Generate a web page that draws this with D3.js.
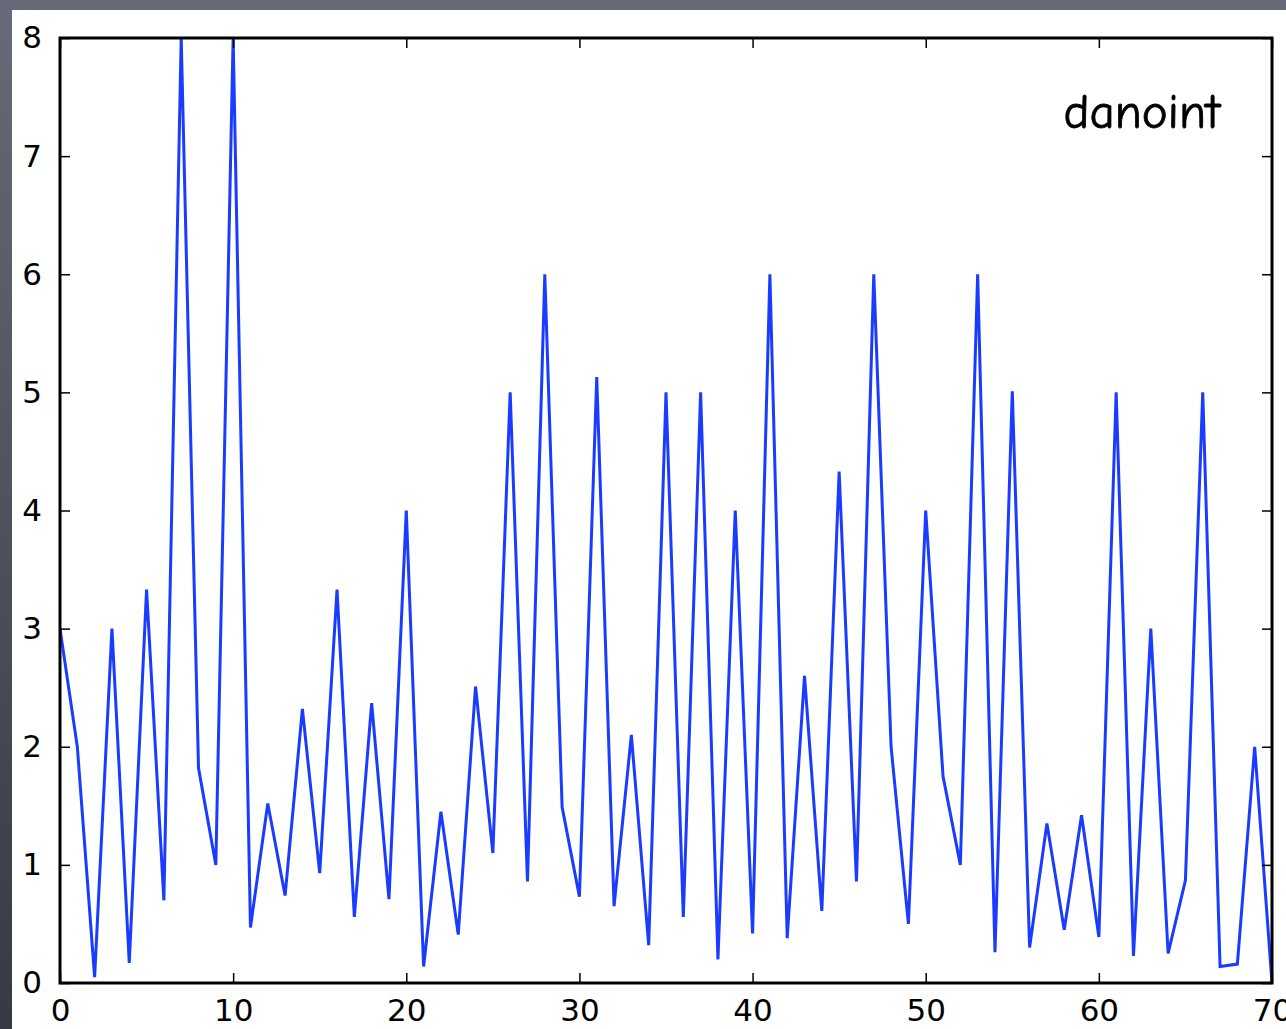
<!DOCTYPE html>
<html>
<head>
<meta charset="utf-8">
<script src="https://cdn.jsdelivr.net/npm/d3@7"></script>
<style>
  html, body { margin: 0; padding: 0; background: #4d4f5b; }
  svg { display: block; }
  .tick text { font-family: "DejaVu Sans", sans-serif; font-size: 31px; fill: #000; }
</style>
</head>
<body>
<svg id="chart" width="1286" height="1029"></svg>
<script>
// danoint series, one value per integer x (0..70)
const xValues = d3.range(0, 71);
const yValues = [
  3.0, 2.0, 0.05, 3.0, 0.17, 3.33, 0.7, 8.0, 1.82, 1.0,
  8.0, 0.47, 1.52, 0.74, 2.32, 0.93, 3.33, 0.56, 2.37, 0.71,
  4.0, 0.14, 1.45, 0.41, 2.51, 1.1, 5.0, 0.86, 6.0, 1.49,
  0.73, 5.13, 0.65, 2.1, 0.32, 5.0, 0.56, 5.0, 0.2, 4.0,
  0.42, 6.0, 0.38, 2.6, 0.61, 4.33, 0.86, 6.0, 2.0, 0.5,
  4.0, 1.75, 1.0, 6.0, 0.26, 5.01, 0.3, 1.35, 0.45, 1.42,
  0.39, 5.0, 0.23, 3.0, 0.25, 0.87, 5.0, 0.14, 0.16, 2.0,
  0.0
];
const xTicks = [0, 10, 20, 30, 40, 50, 60, 70];
const yTicks = [0, 1, 2, 3, 4, 5, 6, 7, 8];
const label = "danoint";

const svg = d3.select("#chart");
const W = 1286, H = 1029;
const plot = {left: 60, right: 1272, top: 38, bottom: 983};

// dark backdrop + white panel
let defs = svg.append("defs");
let grad = defs.append("linearGradient").attr("id", "bg")
    .attr("x1", 0).attr("y1", 0).attr("x2", 0).attr("y2", 1);
grad.append("stop").attr("offset", "0%").attr("stop-color", "#686a79");
grad.append("stop").attr("offset", "100%").attr("stop-color", "#373943");
svg.append("rect").attr("width", W).attr("height", H).attr("fill", "url(#bg)");
svg.append("rect").attr("x", 12).attr("y", 10)
    .attr("width", W - 12).attr("height", H - 10).attr("fill", "#fff");

defs.append("clipPath").attr("id", "clip")
  .append("rect")
    .attr("x", plot.left).attr("y", plot.top)
    .attr("width", plot.right - plot.left).attr("height", plot.bottom - plot.top);

let x = d3.scaleLinear().domain([0, 70]).range([plot.left, plot.right]);
let y = d3.scaleLinear().domain([0, 8]).range([plot.bottom, plot.top]);

// the series
let line = d3.line()
    .x((d, i) => x(xValues[i]))
    .y(d => y(d));

svg.append("path")
    .datum(yValues)
    .attr("clip-path", "url(#clip)")
    .attr("fill", "none")
    .attr("stroke", "#1a3cff")
    .attr("stroke-width", 3)
    .attr("stroke-linejoin", "miter")
    .attr("d", line);

// axes, matplotlib style: ticks pointing inward on all four sides
function styleAxis(g) {
    g.select(".domain").remove();
    g.selectAll(".tick line").attr("stroke", "#000").attr("stroke-width", 1.5);
}

svg.append("g")
    .attr("transform", "translate(0," + plot.bottom + ")")
    .call(d3.axisBottom(x).tickValues(xTicks).tickSize(-10).tickPadding(14).tickFormat(d3.format("d")))
    .call(styleAxis)
    .call(g => g.selectAll(".tick text").attr("dy", "0.78em"));

svg.append("g")
    .attr("transform", "translate(0," + plot.top + ")")
    .call(d3.axisTop(x).tickValues(xTicks).tickSize(-10).tickFormat(""))
    .call(styleAxis);

svg.append("g")
    .attr("transform", "translate(" + plot.left + ",0)")
    .call(d3.axisLeft(y).tickValues(yTicks).tickSize(-10).tickPadding(18).tickFormat(d3.format("d")))
    .call(styleAxis);

svg.append("g")
    .attr("transform", "translate(" + plot.right + ",0)")
    .call(d3.axisRight(y).tickValues(yTicks).tickSize(-10).tickFormat(""))
    .call(styleAxis);

// frame
svg.append("rect")
    .attr("x", plot.left).attr("y", plot.top)
    .attr("width", plot.right - plot.left).attr("height", plot.bottom - plot.top)
    .attr("fill", "none").attr("stroke", "#000").attr("stroke-width", 3);

svg.append("text")
    .attr("x", 1220).attr("y", 128)
    .attr("text-anchor", "end")
    .style("font-family", "'Comic Sans MS', 'Comic Neue', 'DejaVu Sans', sans-serif")
    .style("font-size", "49px")
    .attr("fill", "#000")
    .attr("stroke", "#000")
    .attr("stroke-width", 0.8)
    .text(label);
</script>
</body>
</html>
